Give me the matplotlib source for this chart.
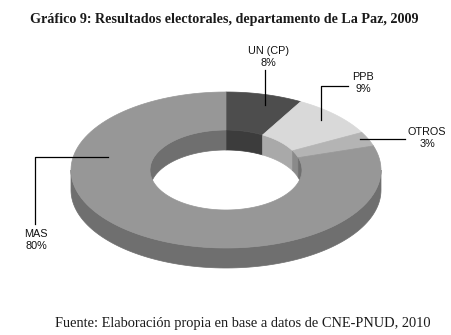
import numpy as np
import matplotlib.pyplot as plt
from matplotlib.patches import Polygon

# datos
partidos = ["UN (CP)", "PPB", "OTROS", "MAS"]
porcentajes = [8, 9, 3, 80]
colores_top = ["#4d4d4d", "#d9d9d9", "#b4b4b4", "#979797"]
colores_lado = ["#3c3c3c", "#a9a9a9", "#8a8a8a", "#6f6f6f"]

titulo = "Gráfico 9: Resultados electorales, departamento de La Paz, 2009"
fuente = "Fuente: Elaboración propia en base a datos de CNE-PNUD, 2010"

# geometria de la dona (pixeles)
cx, cy = 226, 170
a_out, b_out = 155, 78
a_in, b_in = 76, 40
prof = 20

fig = plt.figure(figsize=(4.51, 3.35), dpi=100)
ax = fig.add_axes([0, 0, 1, 1])
ax.set_xlim(0, 451)
ax.set_ylim(335, 0)
ax.axis("off")


def arco(a, b, t0, t1, dy=0, n=120):
    t = np.radians(np.linspace(t0, t1, n))
    return np.column_stack([cx + a * np.cos(t), cy - b * np.sin(t) + dy])


# angulos de cada sector, sentido horario desde arriba
total = float(sum(porcentajes))
bordes = [90.0]
for p in porcentajes:
    bordes.append(bordes[-1] - 360.0 * p / total)


def tramo(t0, t1, lo, hi):
    # interseccion de [t1, t0] (horario) con [lo, hi]
    res = []
    for k in (-360, 0, 360):
        s = max(min(t0, t1) + k, lo)
        e = min(max(t0, t1) + k, hi)
        if e > s:
            res.append((s, e))
    return res


# pared exterior (mitad frontal)
for i in range(len(partidos)):
    for s, e in tramo(bordes[i], bordes[i + 1], 180, 360):
        top = arco(a_out, b_out, s, e)
        bot = arco(a_out, b_out, e, s, dy=prof)
        ax.add_patch(Polygon(np.vstack([top, bot]), closed=True,
                             fc=colores_lado[i], ec=colores_lado[i], lw=0.5))

# pared interior (mitad trasera, se ve por el hueco)
for i in range(len(partidos)):
    for s, e in tramo(bordes[i], bordes[i + 1], 0, 180):
        top = arco(a_in, b_in, s, e)
        bot = arco(a_in, b_in, e, s, dy=prof)
        ax.add_patch(Polygon(np.vstack([top, bot]), closed=True,
                             fc=colores_lado[i], ec=colores_lado[i], lw=0.5))

# cara superior
for i in range(len(partidos)):
    t0, t1 = bordes[i], bordes[i + 1]
    ext = arco(a_out, b_out, t0, t1)
    inn = arco(a_in, b_in, t1, t0)
    ax.add_patch(Polygon(np.vstack([ext, inn]), closed=True,
                         fc=colores_top[i], ec=colores_top[i], lw=0.5))

# etiquetas y lineas guia
fs_lab = 7.8
lab = dict(fontsize=fs_lab, family="Liberation Sans", ha="center",
           va="center", linespacing=1.15, color="#111111")
etiquetas = ["%s\n%d%%" % (n, p) for n, p in zip(partidos, porcentajes)]

ax.text(268, 57, etiquetas[0], **lab)
ax.plot([265, 265], [70, 105], color="black", lw=0.9)

ax.text(363, 83, etiquetas[1], **lab)
ax.plot([348, 321, 321], [86, 86, 120], color="black", lw=0.9)

ax.text(427, 138, etiquetas[2], **lab)
ax.plot([405, 360], [139, 139], color="black", lw=0.9)

ax.text(36, 240, etiquetas[3], **lab)
ax.plot([108, 35, 35], [157, 157, 224], color="black", lw=0.9)

ax.text(224, 19, titulo, fontsize=10.2, family="Liberation Serif",
        weight="bold", ha="center", va="center", color="#1a1a1a")
ax.text(243, 324, fuente, fontsize=10.4, family="Liberation Serif",
        ha="center", va="center", color="#1a1a1a")

fig.savefig("out.png", dpi=100)
